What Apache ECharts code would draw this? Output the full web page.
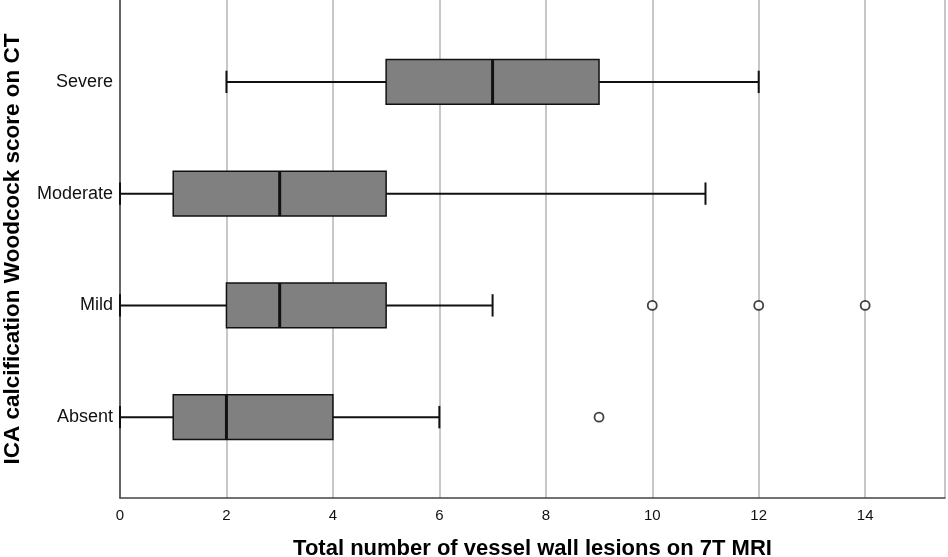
<!DOCTYPE html>
<html>
<head>
<meta charset="utf-8">
<script src="https://cdn.jsdelivr.net/npm/echarts@6/dist/echarts.min.js"></script>
<style>
html, body { margin: 0; padding: 0; background: #fff; }
#main { width: 948px; height: 557px; }
</style>
</head>
<body>
<div id="main"></div>
<script>
// categories from bottom to top
var groups = ['Absent', 'Mild', 'Moderate', 'Severe'];
// [min, Q1, median, Q3, max]
var boxes = [
    [0, 1, 2, 4, 6],
    [0, 2, 3, 5, 7],
    [0, 1, 3, 5, 11],
    [2, 5, 7, 9, 12]
];
var outliers = [
    [9, 'Absent'],
    [10, 'Mild'],
    [12, 'Mild'],
    [14, 'Mild']
];
var xTicks = [0, 2, 4, 6, 8, 10, 12, 14];

var font = 'Liberation Sans, Arial, sans-serif';

// SPSS style box: half-height caps, thick median line
function renderBox(params, api) {
    var cat = api.value(0);
    var lo = api.coord([api.value(1), cat]);
    var q1 = api.coord([api.value(2), cat]);
    var md = api.coord([api.value(3), cat]);
    var q3 = api.coord([api.value(4), cat]);
    var hi = api.coord([api.value(5), cat]);
    var y = lo[1];
    var bh = api.size([0, 1])[1] * 0.4;
    var ch = bh / 2;
    var line = { stroke: '#111', lineWidth: 2 };
    return {
        type: 'group',
        children: [
            { type: 'line', shape: { x1: lo[0], y1: y, x2: q1[0], y2: y }, style: line },
            { type: 'line', shape: { x1: q3[0], y1: y, x2: hi[0], y2: y }, style: line },
            { type: 'line', shape: { x1: lo[0], y1: y - ch / 2, x2: lo[0], y2: y + ch / 2 }, style: line },
            { type: 'line', shape: { x1: hi[0], y1: y - ch / 2, x2: hi[0], y2: y + ch / 2 }, style: line },
            { type: 'rect', shape: { x: q1[0], y: y - bh / 2, width: q3[0] - q1[0], height: bh },
              style: { fill: '#808080', stroke: '#111', lineWidth: 1.5 } },
            { type: 'line', shape: { x1: md[0], y1: y - bh / 2, x2: md[0], y2: y + bh / 2 },
              style: { stroke: '#111', lineWidth: 3 } }
        ]
    };
}

echarts.init(document.getElementById('main')).setOption({
    animation: false,
    grid: [
        { left: 120, right: 3, top: 0, bottom: 59, outerBoundsMode: 'none' },
        { left: 120, right: 3, top: 26, bottom: 84, outerBoundsMode: 'none' }
    ],
    xAxis: [{
        gridIndex: 0,
        type: 'value',
        min: 0,
        max: 15.5,
        interval: 2,
        name: 'Total number of vessel wall lesions on 7T MRI',
        nameLocation: 'middle',
        nameGap: 40,
        nameTextStyle: { fontFamily: font, fontSize: 22, fontWeight: 'bold', color: '#000' },
        axisLine: { lineStyle: { color: '#444', width: 1.5 } },
        axisTick: { show: false },
        axisLabel: {
            fontFamily: font, fontSize: 15, color: '#111', margin: 10,
            showMaxLabel: false,
            formatter: function(v) { return xTicks.indexOf(v) >= 0 ? v : ''; }
        },
        splitLine: { show: true, lineStyle: { color: '#b4b4b4', width: 1.5 } }
    }, {
        gridIndex: 1,
        type: 'value',
        min: 0,
        max: 15.5,
        show: false
    }],
    yAxis: [{
        gridIndex: 0,
        type: 'value',
        min: 0,
        max: 1,
        name: 'ICA calcification Woodcock score on CT',
        nameLocation: 'middle',
        nameGap: 96,
        nameTextStyle: { fontFamily: font, fontSize: 22.5, fontWeight: 'bold', color: '#000' },
        axisLine: { show: true, lineStyle: { color: '#444', width: 1.5 } },
        axisTick: { show: false },
        axisLabel: { show: false },
        splitLine: { show: false }
    }, {
        gridIndex: 1,
        type: 'category',
        data: groups,
        axisLine: { show: false },
        axisTick: { show: false },
        axisLabel: { fontFamily: font, fontSize: 18, color: '#111', margin: 7 },
        splitLine: { show: false }
    }],
    series: [{
        type: 'custom',
        xAxisIndex: 1,
        yAxisIndex: 1,
        renderItem: renderBox,
        encode: { x: [1, 2, 3, 4, 5], y: 0 },
        data: boxes.map(function(b, i) { return [i].concat(b); }),
        z: 3
    }, {
        type: 'scatter',
        xAxisIndex: 1,
        yAxisIndex: 1,
        symbol: 'circle',
        symbolSize: 9,
        data: outliers,
        itemStyle: { color: '#fff', borderColor: '#111', borderWidth: 1.8 },
        z: 5
    }]
});
</script>
</body>
</html>
